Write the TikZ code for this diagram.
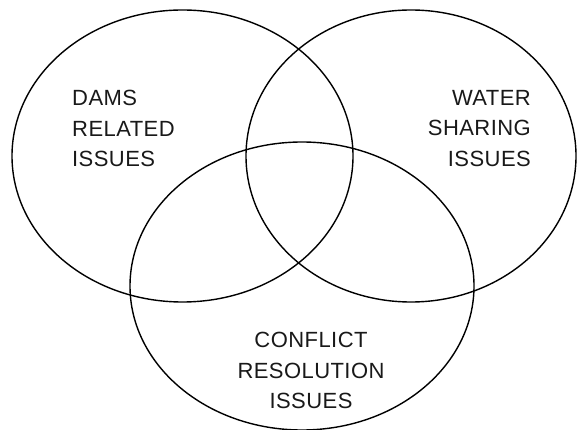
\documentclass[tikz,border=0pt]{standalone}
\usepackage{fontspec}
\newfontfamily\lblfont[LetterSpace=2]{Liberation Sans}
\usetikzlibrary{shapes.geometric}
\tikzset{
  setcircle/.style={ellipse, draw=black, line width=1.4pt, inner sep=0pt},
  setlabel/.style={inner sep=0pt, text=black!90, font={\lblfont\fontsize{22}{30.5}\selectfont}}
}
\begin{document}
\begin{tikzpicture}[x=1pt, y=-1pt]
\useasboundingbox (0,0) rectangle (578,430);
\node[setcircle, minimum width=341pt, minimum height=292pt] (dams) at (182.5,156) {};
\node[setcircle, minimum width=330pt, minimum height=292pt] (water) at (411,156) {};
\node[setcircle, minimum width=344pt, minimum height=288pt] (conflict) at (302,286) {};
\node[setlabel, align=left, anchor=north west] (damslbl) at (72,90) {DAMS\\RELATED\\ISSUES};
\node[setlabel, align=right, anchor=north east] (waterlbl) at (531,90) {WATER\\SHARING\\ISSUES};
\node[setlabel, align=center, anchor=north] (conflictlbl) at (311,332) {CONFLICT\\RESOLUTION\\ISSUES};
\end{tikzpicture}
\end{document}
